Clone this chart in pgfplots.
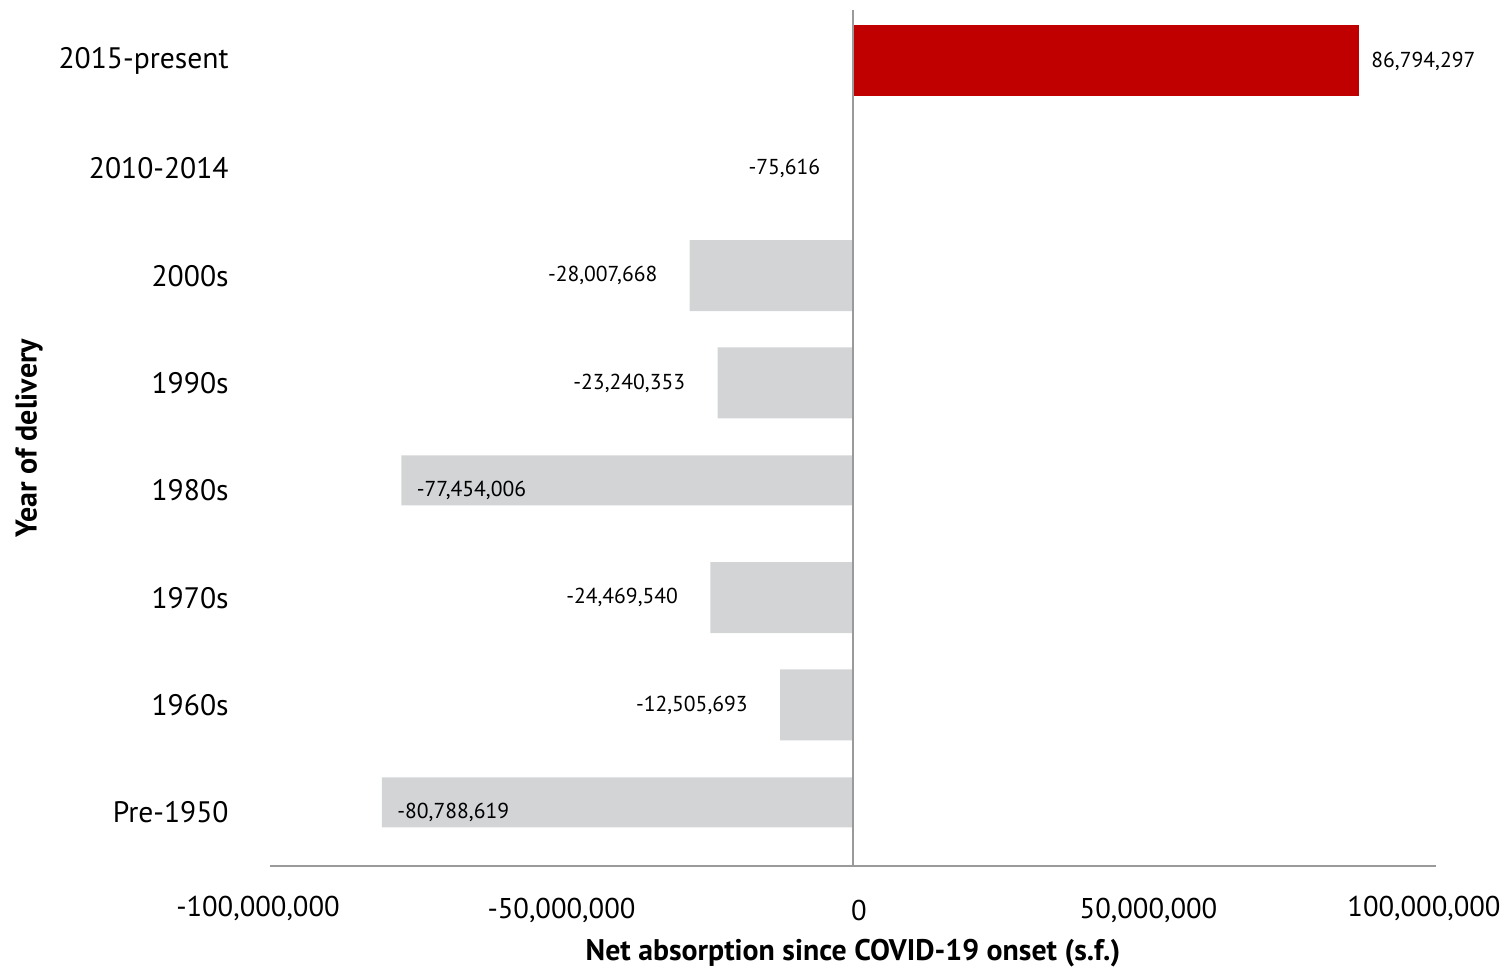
\documentclass[border=0pt]{standalone}
\usepackage{pgfplots}
\pgfplotsset{compat=1.18}
\usepackage{fontspec}
\setmainfont{PT Sans}
\definecolor{barred}{HTML}{C00000}
\definecolor{bargray}{HTML}{D3D4D6}
\definecolor{axgray}{HTML}{9A9A9A}
\begin{document}
\begin{tikzpicture}
\begin{axis}[
  name=ax, at={(0,0)}, anchor=south west,
  scale only axis, width=583pt, height=428pt,
  xmin=-100000000, xmax=100000000, ymin=-0.5, ymax=7.475,
  axis lines*=left, separate axis lines,
  x axis line style={axgray, line width=1pt},
  y axis line style={draw=none},
  major tick length=0pt,
  axis on top,
  xtick={-100000000,-50000000,0,50000000,100000000},
  xticklabels={{\raisebox{3.5pt}{-100,000,000}\hspace*{12pt}},{-50,000,000},{\hspace*{6pt}0},{\hspace*{4pt}50,000,000},{\raisebox{3.5pt}{100,000,000}\hspace*{12pt}}},
  xticklabel style={font=\fontsize{14.3}{16}\selectfont, anchor=center, yshift=-22pt},
  extra x ticks={0}, extra x tick labels={},
  extra x tick style={grid=major, major grid style={axgray, line width=1pt}},
  ytick={0,1,2,3,4,5,6,7},
  yticklabels={Pre-1950,1960s,1970s,1980s,1990s,2000s,2010-2014,2015-present},
  yticklabel style={font=\fontsize{14.8}{17}\selectfont, anchor=east, inner sep=0pt, xshift=-20.5pt},
  xlabel={\bfseries Net absorption since COVID-19 onset (s.f.)},
  xlabel style={font=\fontsize{14.9}{17}\selectfont, at={(axis description cs:0.5,-0.1016)}, anchor=center},
  ylabel={\bfseries Year of delivery},
  ylabel style={font=\fontsize{15}{17}\selectfont, at={(axis description cs:-0.2067,0.5)}, anchor=center},
  point meta=explicit symbolic,
]
% positive bar
\addplot[xbar, bar width=35.5pt, fill=barred, draw=none,
  nodes near coords, nodes near coords style={font=\fontsize{10.8}{12}\selectfont, inner sep=0pt, anchor=west, xshift=6pt}]
  table[x=x, y=y, meta=lab] {
x y lab
86794297 7 86,794,297
};
% regular grey bars
\addplot[xbar, bar width=35.5pt, fill=bargray, draw=none,
  nodes near coords, nodes near coords style={font=\fontsize{10.8}{12}\selectfont, inner sep=0pt, anchor=east, xshift=-16pt}]
  table[x=x, y=y, meta=lab] {
x y lab
-75616 6 -75,616
-28007668 5 -28,007,668
-23240353 4 -23,240,353
-24469540 2 -24,469,540
-12505693 1 -12,505,693
};
% thin grey bars
\addplot[xbar, bar width=25pt, bar shift=5pt, fill=bargray, draw=none,
  nodes near coords, nodes near coords style={font=\fontsize{10.8}{12}\selectfont, inner sep=0pt, anchor=west, xshift=7.5pt}]
  table[x=x, y=y, meta=lab] {
x y lab
-77454006 3 -77,454,006
-80788619 0 -80,788,619
};
\end{axis}
\pgfresetboundingbox
\path[use as bounding box] ([shift={(-135pt,-51.5pt)}]ax.south west) rectangle ([shift={(36.5pt,5pt)}]ax.north east);
\end{tikzpicture}
\end{document}
